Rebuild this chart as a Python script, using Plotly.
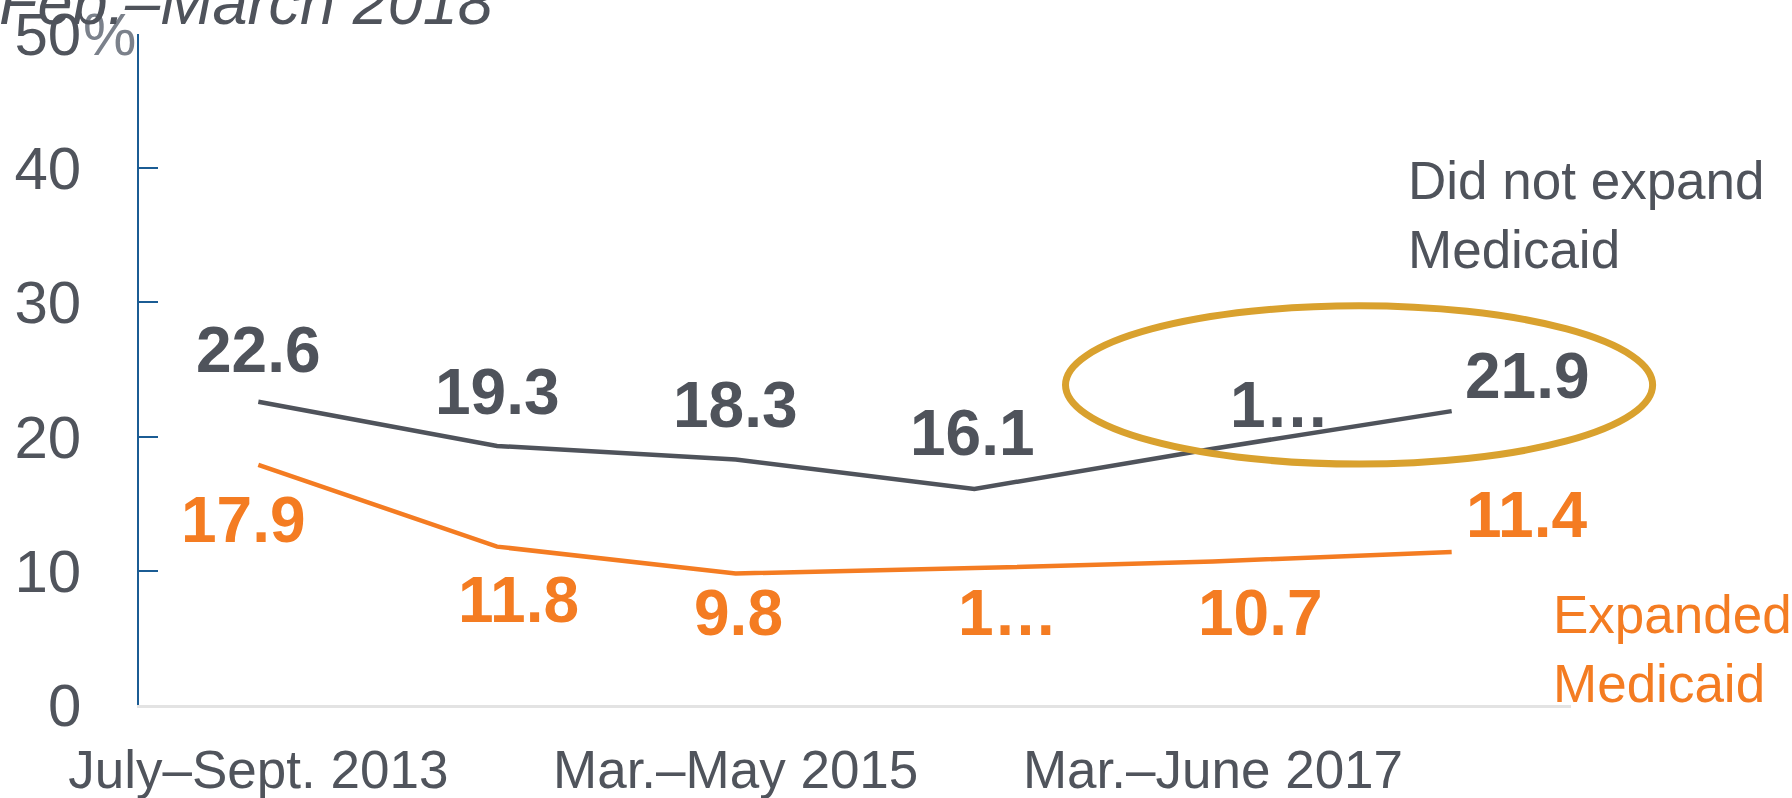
import plotly.graph_objects as go

# survey waves (only every other one is labelled on the axis)
periods = ["July–Sept. 2013", "Apr.–June 2014", "Mar.–May 2015",
           "Feb.–Apr. 2016", "Mar.–June 2017", "Feb.–Mar. 2018"]
shown_ticks = ["July–Sept. 2013", "Mar.–May 2015", "Mar.–June 2017"]

not_expanded = [22.6, 19.3, 18.3, 16.1, 19.1, 21.9]
expanded = [17.9, 11.8, 9.8, 10.2, 10.7, 11.4]

# data labels as they appear (two were cut short in the original)
not_expanded_labels = ["22.6", "19.3", "18.3", "16.1", "1…", "21.9"]
expanded_labels = ["17.9", "11.8", "9.8", "1…", "10.7", "11.4"]

GREY = "#4f535b"
ORANGE = "#f47c22"
GOLD = "#d9a12e"
BLUE = "#1b5c94"
FONT = "Liberation Sans, Arial, sans-serif"

# label nudges in px (x, y) - hand placed like the source chart
dark_shift = [(0, 52), (0, 54), (0, 54), (-2, 56), (67, 44), (76, 35)]
orange_shift = [(-15, -55), (21, -53), (3, -40), (34, -45), (47, -52), (75, 37)]

fig = go.Figure()
fig.add_trace(go.Scatter(x=periods, y=not_expanded, mode="lines",
                         line=dict(color=GREY, width=4.5), cliponaxis=False,
                         name="Did not expand Medicaid"))
fig.add_trace(go.Scatter(x=periods, y=expanded, mode="lines",
                         line=dict(color=ORANGE, width=4.5), cliponaxis=False,
                         name="Expanded Medicaid"))

annotations = []
for vals, labels, shifts, color in [(not_expanded, not_expanded_labels, dark_shift, GREY),
                                    (expanded, expanded_labels, orange_shift, ORANGE)]:
    for p, v, t, (dx, dy) in zip(periods, vals, labels, shifts):
        annotations.append(dict(x=p, y=v, text=f"<b>{t}</b>", showarrow=False,
                                xanchor="center", yanchor="middle", xshift=dx, yshift=dy,
                                font=dict(family=FONT, size=64, color=color)))

# series names on the right
annotations.append(dict(xref="paper", yref="paper", x=0.8848, y=0.829,
                        text="Did not expand<br>Medicaid", showarrow=False,
                        xanchor="left", yanchor="top", align="left",
                        font=dict(family=FONT, size=53, color=GREY)))
annotations.append(dict(xref="paper", yref="paper", x=0.986, y=0.182,
                        text="Expanded<br>Medicaid", showarrow=False,
                        xanchor="left", yanchor="top", align="left",
                        font=dict(family=FONT, size=53, color=ORANGE)))
# "%" after the top tick
annotations.append(dict(xref="paper", yref="paper", x=-0.0405, y=1,
                        text="%", showarrow=False, xanchor="left", yanchor="middle",
                        font=dict(family=FONT, size=60, color="#7b818b")))
# cropped subtitle at the very top
annotations.append(dict(xref="paper", yref="paper", x=0.2486, y=0.993,
                        text="<i>Feb.–March 2018</i>", showarrow=False,
                        xanchor="right", yanchor="bottom",
                        font=dict(family=FONT, size=63, color=GREY)))

fig.update_layout(
    width=1792, height=798,
    margin=dict(l=139, r=221, t=34, b=93),
    paper_bgcolor="white", plot_bgcolor="white",
    showlegend=False,
    font=dict(family=FONT, color="#50545c"),
    annotations=annotations,
    shapes=[dict(type="circle", xref="x domain", yref="y domain",
                 x0=0.647, x1=1.057, y0=0.359, y1=0.595,
                 line=dict(color=GOLD, width=7))],
    xaxis=dict(type="category", range=[-0.5, 5.5], tickmode="array",
               tickvals=shown_ticks, ticktext=shown_ticks, ticks="",
               showline=True, linecolor="#e3e3e3", linewidth=3,
               showgrid=False, zeroline=False, ticklabelstandoff=16,
               automargin=False,
               tickfont=dict(family=FONT, size=53, color="#50545c")),
    yaxis=dict(range=[0, 50], tickmode="array", tickvals=[0, 10, 20, 30, 40, 50],
               ticks="inside", ticklen=19, tickcolor=BLUE, tickwidth=1.5,
               showline=True, linecolor=BLUE, linewidth=1.5,
               showgrid=False, zeroline=False, ticklabelstandoff=44,
               automargin=False,
               tickfont=dict(family=FONT, size=60, color="#50545c")),
)

# drop the default page margin so the figure sits at the window's corner
fig.write_html("out.html", config={"displayModeBar": False},
               post_script="document.body.style.margin='0';")
